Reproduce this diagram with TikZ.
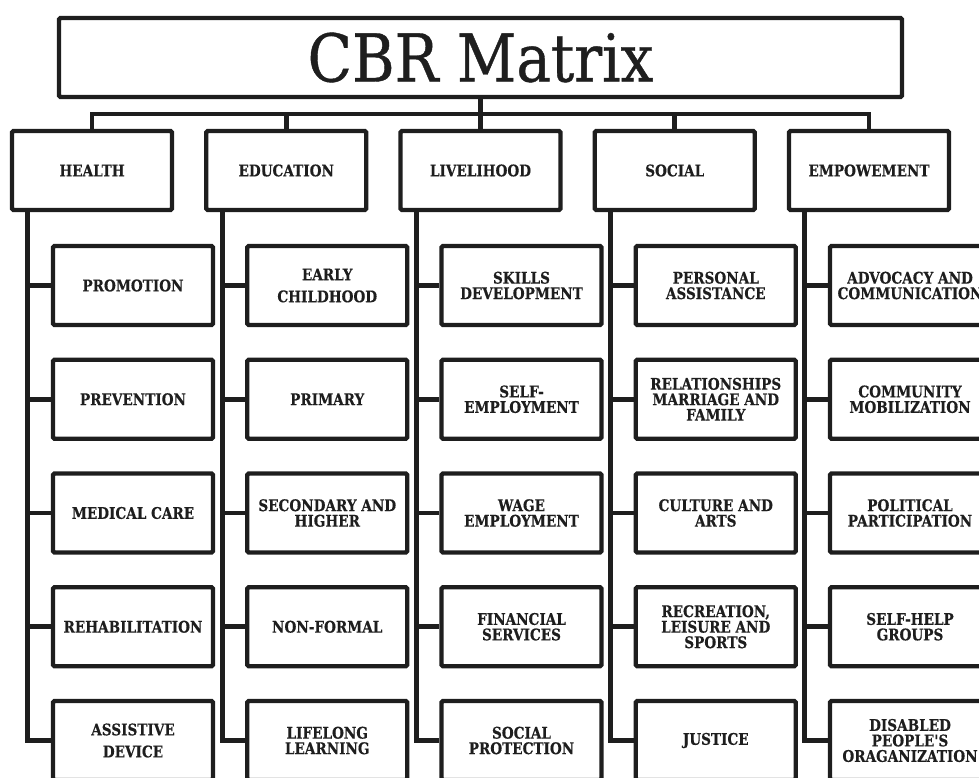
\documentclass[tikz,border=0pt]{standalone}
\usepackage{fontspec}
\setmainfont{DejaVu Serif}
\newfontfamily\lblfont[FakeStretch=0.85,FakeBold=0.4]{DejaVu Serif}
\newfontfamily\ttlfont[FakeStretch=0.88,FakeBold=0.6]{DejaVu Serif}
\definecolor{ink}{HTML}{1E1E1E}
\begin{document}
\begin{tikzpicture}[x=1pt,y=-1pt,line join=miter,
  box/.style={draw=ink,text=ink,line width=4.3pt,rounded corners=1.5pt,inner sep=0pt,align=center,
    minimum width=160pt,minimum height=79pt,font=\lblfont\bfseries\fontsize{16}{15.5}\selectfont},
  titlebox/.style={draw=ink,text=ink,line width=4.3pt,rounded corners=1.5pt,inner sep=0pt,
    minimum width=843pt,minimum height=79pt,font=\ttlfont\fontsize{66}{66}\selectfont},
  conn/.style={draw=ink,line width=4.8pt}]
\useasboundingbox (0,0) rectangle (979,778);
\clip (0,0) rectangle (979,778);

% title
\node[titlebox] (t) at (480.5,57.5) {CBR Matrix};

% categories
\node[box] (h) at (92,170.5) {HEALTH};
\node[box] (e) at (286.25,170.5) {EDUCATION};
\node[box] (l) at (480.5,170.5) {LIVELIHOOD};
\node[box] (s) at (674.75,170.5) {SOCIAL};
\node[box] (p) at (869,170.5) {EMPOWEMENT};

% bus
\coordinate (bus) at (0,114);
\draw[conn] (t.south) -- (l.north);
\draw[conn] (h.north) -- (h.north |- bus) -- (p.north |- bus) -- (p.north);
\draw[conn] (e.north) -- (e.north |- bus);
\draw[conn] (s.north) -- (s.north |- bus);

% HEALTH
\node[box] (h1) at (133,285.5) {PROMOTION};
\node[box] (h2) at (133,399.25) {PREVENTION};
\node[box] (h3) at (133,513) {MEDICAL CARE};
\node[box] (h4) at (133,626.75) {REHABILITATION};
\node[box] (h5) at (133,740.5) {ASSISTIVE\\[6.5pt]DEVICE};

% EDUCATION
\node[box] (e1) at (327.25,285.5) {EARLY\\[6.5pt]CHILDHOOD};
\node[box] (e2) at (327.25,399.25) {PRIMARY};
\node[box] (e3) at (327.25,513) {SECONDARY AND\\HIGHER};
\node[box] (e4) at (327.25,626.75) {NON-FORMAL};
\node[box] (e5) at (327.25,740.5) {LIFELONG\\LEARNING};

% LIVELIHOOD
\node[box] (l1) at (521.5,285.5) {SKILLS\\DEVELOPMENT};
\node[box] (l2) at (521.5,399.25) {SELF-\\EMPLOYMENT};
\node[box] (l3) at (521.5,513) {WAGE\\EMPLOYMENT};
\node[box] (l4) at (521.5,626.75) {FINANCIAL\\SERVICES};
\node[box] (l5) at (521.5,740.5) {SOCIAL\\PROTECTION};

% SOCIAL
\node[box] (s1) at (715.75,285.5) {PERSONAL\\ASSISTANCE};
\node[box] (s2) at (715.75,399.25) {RELATIONSHIPS\\MARRIAGE AND\\FAMILY};
\node[box] (s3) at (715.75,513) {CULTURE AND\\ARTS};
\node[box] (s4) at (715.75,626.75) {RECREATION,\\LEISURE AND\\SPORTS};
\node[box] (s5) at (715.75,740.5) {JUSTICE};

% EMPOWEMENT
\node[box] (p1) at (910,285.5) {ADVOCACY AND\\COMMUNICATION};
\node[box] (p2) at (910,399.25) {COMMUNITY\\MOBILIZATION};
\node[box] (p3) at (910,513) {POLITICAL\\PARTICIPATION};
\node[box] (p4) at (910,626.75) {SELF-HELP\\GROUPS};
\node[box] (p5) at (910,740.5) {DISABLED\\PEOPLE'S\\ORAGANIZATION};

% spines and branches
\foreach \c in {h,e,l,s,p}{
  \coordinate (sp\c) at ([xshift=18pt]\c.south west);
  \draw[conn] (sp\c) |- (\c5.west);
  \foreach \r in {1,2,3,4}{
    \draw[conn] (\c\r.west -| sp\c) -- (\c\r.west);
  }
}
\end{tikzpicture}
\end{document}
